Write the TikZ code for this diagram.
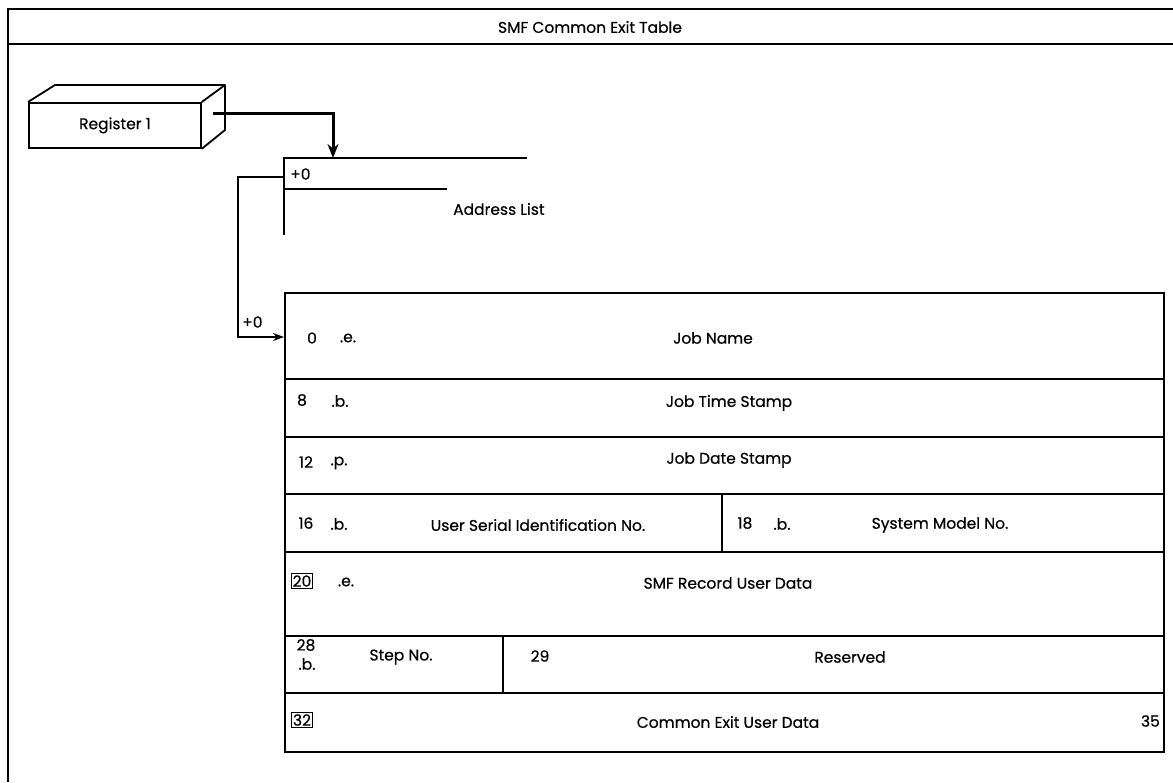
\documentclass[tikz,border=0pt]{standalone}
\usepackage{fontspec}
\setmainfont{Poppins}[FakeBold=0.5]
\usetikzlibrary{arrows.meta}
\tikzset{
  txt/.style={font=\fontsize{15.5}{18}\selectfont, inner sep=0pt},
  ttl/.style={font=\fontsize{15.5}{18}\selectfont, inner sep=0pt},
  frameline/.style={line width=1.3pt},
  boxline/.style={line width=1.8pt},
  tabline/.style={line width=2.3pt},
  rowline/.style={line width=1.4pt},
  ptr/.style={line width=1.6pt, -{Stealth[length=11pt,width=8pt]}},
  regptr/.style={line width=3pt, -{Stealth[length=14pt,width=11pt]}},
  boxnum/.style={txt, draw, line width=1.3pt, inner sep=1.5pt},
}
\begin{document}
\begin{tikzpicture}[x=1pt,y=-1pt]
\useasboundingbox (0,0) rectangle (1173,782);
% outer frame
\draw[frameline] (1173,9) -- (8,9) -- (8,782);
\draw[frameline] (8,44) -- (1173,44);
\node[ttl] (title) at (590,27) {SMF Common Exit Table};

% register
\node[txt, draw, boxline, minimum width=172pt, minimum height=45pt, anchor=north west] (reg) at (28,102) {Register 1};
\draw[boxline, line join=round] (reg.north west) -- (55,85) -- (225,85) -- (225,130) -- (reg.south east);
\draw[boxline] (reg.north east) -- (225,85);
\coordinate (regout) at (213,113);

% address list
\coordinate (al) at (284,158);
\coordinate (alin) at (333,158);
\draw[boxline] (527,158) -- (al) -- (284,235);
\draw[boxline] (284,189) -- (447,189);
\node[txt, anchor=west] (alplus) at (290,174) {+0};
\node[txt, anchor=west] (alname) at (453,209) {Address List};
\coordinate (alptr) at (284,177);

\draw[regptr] (regout) -| (alin);

% table
\node[draw, tabline, minimum width=879pt, minimum height=459pt, anchor=north west, inner sep=0pt] (tab) at (284,292) {};
\coordinate (tabin) at (284,337);
\draw[ptr] (alptr) -- (238,177) |- (tabin);
\node[txt, anchor=west] (tabplus) at (242,322) {+0};

\foreach \yy in {379,437,494,552,636,693} \draw[rowline] (284,\yy) -- (1163,\yy);
\draw[rowline] (722,494) -- (722,552);
\draw[rowline] (503,636) -- (503,693);

% row 0
\node[txt] (n0) at (312,338) {0};
\node[txt] (e0) at (348,338) {.e.};
\node[txt] (jobname) at (713,338) {Job Name};
% row 8
\node[txt] (n8) at (302,400) {8};
\node[txt] (b8) at (340,401) {.b.};
\node[txt] (jts) at (729,403) {Job Time Stamp};
% row 12
\node[txt] (n12) at (306,462) {12};
\node[txt] (p12) at (339,463) {.p.};
\node[txt] (jds) at (729,460) {Job Date Stamp};
% row 16
\node[txt] (n16) at (306,523) {16};
\node[txt] (b16) at (339,524) {.b.};
\node[txt] (usid) at (538,525) {User Serial Identification No.};
\node[txt] (n18) at (745,523) {18};
\node[txt] (b18) at (782,524) {.b.};
\node[txt] (smn) at (940,525) {System Model No.};
% row 20
\node[boxnum] (n20) at (302,581) {20};
\node[txt] (e20) at (346,582) {.e.};
\node[txt] (smfrud) at (728,583) {SMF Record User Data};
% row 28
\node[txt] (n28) at (306,645) {28};
\node[txt] (b28) at (307,664) {.b.};
\node[txt] (stepno) at (401,657) {Step No.};
\node[txt] (n29) at (540,656) {29};
\node[txt] (res) at (850,657) {Reserved};
% row 32
\node[boxnum] (n32) at (302,720) {32};
\node[txt] (ceud) at (728,722) {Common Exit User Data};
\node[txt, anchor=east] (n35) at (1160,721) {35};
\end{tikzpicture}
\end{document}
